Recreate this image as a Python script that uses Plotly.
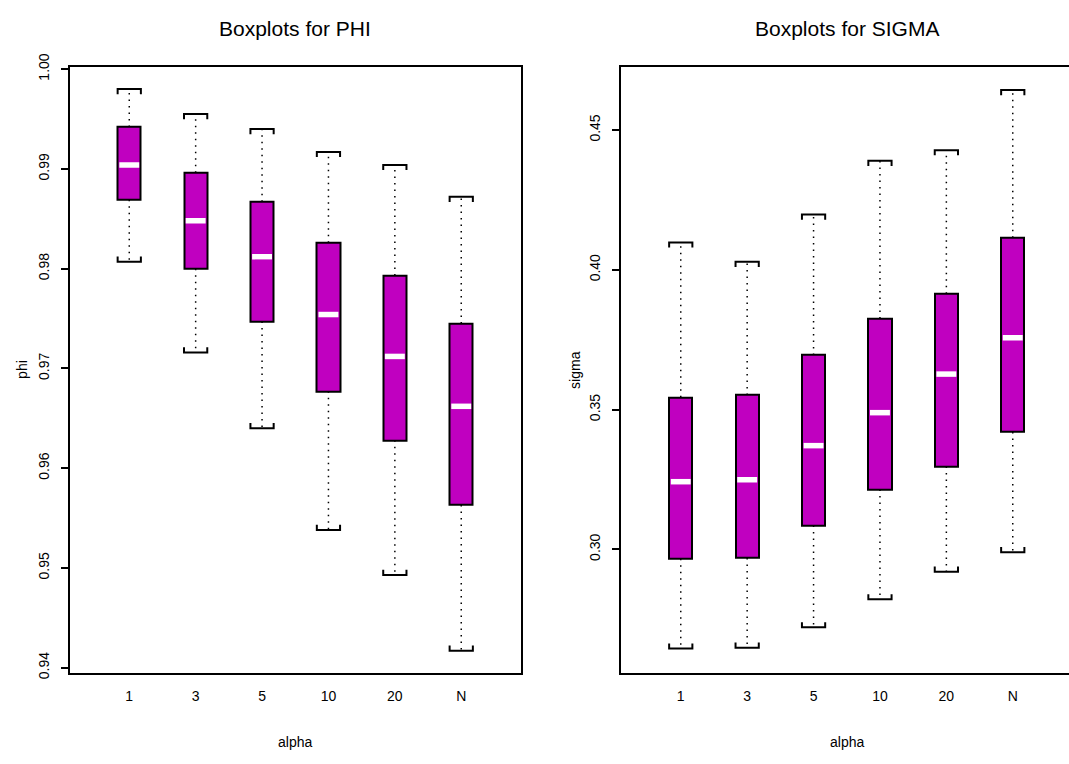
import plotly.graph_objects as go

# ---------------- data ----------------
categories = ["1", "3", "5", "10", "20", "N"]
positions = [1, 2, 3, 4, 5, 6]

phi_low = [0.9807, 0.9716, 0.9640, 0.9538, 0.9493, 0.9417]
phi_q1 = [0.9869, 0.9800, 0.9747, 0.9677, 0.9628, 0.9563]
phi_med = [0.9904, 0.9848, 0.9812, 0.9754, 0.9712, 0.9662]
phi_q3 = [0.9942, 0.9896, 0.9867, 0.9826, 0.9793, 0.9745]
phi_high = [0.9980, 0.9955, 0.9940, 0.9917, 0.9904, 0.9872]

sigma_low = [0.2645, 0.2648, 0.2721, 0.2821, 0.2920, 0.2990]
sigma_q1 = [0.2966, 0.2969, 0.3085, 0.3214, 0.3296, 0.3420]
sigma_med = [0.3242, 0.3249, 0.3371, 0.3489, 0.3627, 0.3757]
sigma_q3 = [0.3544, 0.3552, 0.3695, 0.3826, 0.3914, 0.4115]
sigma_high = [0.4098, 0.4029, 0.4198, 0.4390, 0.4428, 0.4643]

phi_ticks = [0.94, 0.95, 0.96, 0.97, 0.98, 0.99, 1.00]
sigma_ticks = [0.30, 0.35, 0.40, 0.45]

# ---------------- style ----------------
W, H = 1069, 764
FILL = "#C000C0"
BOX_W = 0.35
FONT = "Liberation Sans, Arial, Helvetica, sans-serif"


def px2x(p):
    return p / W


def px2y(p):
    return (H - p) / H


fig = go.Figure()


def add_panel(xa, ya, low, q1, med, q3, high, yrange):
    span = yrange[1] - yrange[0]
    leg = span * 0.0085
    hw = BOX_W / 2
    fig.add_trace(go.Bar(
        x=positions, y=[b - a for a, b in zip(q1, q3)], base=q1, width=BOX_W,
        marker=dict(color=FILL, line=dict(color="black", width=2)),
        xaxis=xa, yaxis=ya, showlegend=False, hoverinfo="skip"))
    wx, wy = [], []
    for p, l, a, b, h in zip(positions, low, q1, q3, high):
        wx += [p, p, None, p, p, None]
        wy += [b, h, None, a, l, None]
    fig.add_trace(go.Scatter(
        x=wx, y=wy, mode="lines", xaxis=xa, yaxis=ya, showlegend=False,
        line=dict(color="black", width=1.5, dash="1.5px,5px"), hoverinfo="skip"))
    sx, sy = [], []
    for p, l, h in zip(positions, low, high):
        sx += [p - hw, p - hw, p + hw, p + hw, None,
               p - hw, p - hw, p + hw, p + hw, None]
        sy += [h - leg, h, h, h - leg, None,
               l + leg, l, l, l + leg, None]
    fig.add_trace(go.Scatter(
        x=sx, y=sy, mode="lines", xaxis=xa, yaxis=ya, showlegend=False,
        line=dict(color="black", width=2), hoverinfo="skip"))
    mx, my = [], []
    for p, m in zip(positions, med):
        mx += [p - hw + 0.025, p + hw - 0.025, None]
        my += [m, m, None]
    fig.add_trace(go.Scatter(
        x=mx, y=my, mode="lines", xaxis=xa, yaxis=ya, showlegend=False,
        line=dict(color="white", width=5.5), hoverinfo="skip"))


phi_range = [0.93945, 1.00025]
sigma_range = [0.2557, 0.4727]

add_panel("x", "y", phi_low, phi_q1, phi_med, phi_q3, phi_high, phi_range)
add_panel("x2", "y2", sigma_low, sigma_q1, sigma_med, sigma_q3, sigma_high, sigma_range)

ydom = [px2y(677), px2y(55)]
xdom1 = [px2x(69.5), px2x(521)]
xdom2 = [px2x(621), 1.0]

common_x = dict(showgrid=False, zeroline=False, showline=True, linecolor="black",
                linewidth=2, ticks="outside", ticklen=0, tickvals=positions,
                ticktext=categories, tickfont=dict(size=14, color="black", family=FONT),
                ticklabelstandoff=9, fixedrange=True)
common_y = dict(showgrid=False, zeroline=False, showline=True, linecolor="black",
                linewidth=2, ticks="outside", ticklen=7, tickwidth=1.5, tickcolor="black",
                tickformat=".2f", tickangle=-90,
                tickfont=dict(size=14, color="black", family=FONT),
                ticklabelstandoff=6, fixedrange=True)

fig.update_layout(
    width=W, height=H, margin=dict(l=0, r=0, t=0, b=0),
    paper_bgcolor="white", plot_bgcolor="white", bargap=0,
    font=dict(family=FONT, color="black"),
    xaxis=dict(domain=xdom1, range=[0.1, 6.9], mirror=True, anchor="y", **common_x),
    yaxis=dict(domain=ydom, range=phi_range, tickvals=phi_ticks, mirror=True,
               anchor="x", **common_y),
    xaxis2=dict(domain=xdom2, range=[0.1, 0.1 + 448 / 66.4], mirror=True, anchor="y2",
                **common_x),
    yaxis2=dict(domain=ydom, range=sigma_range, tickvals=sigma_ticks, mirror=False,
                anchor="x2", **common_y),
)

c1 = (xdom1[0] + xdom1[1]) / 2
c2 = (px2x(621) + px2x(1072.5)) / 2
ann = [
    dict(text="Boxplots for PHI", x=c1, y=px2y(16), size=21),
    dict(text="Boxplots for SIGMA", x=c2, y=px2y(16), size=21),
    dict(text="alpha", x=c1, y=px2y(748), size=14),
    dict(text="alpha", x=c2, y=px2y(748), size=14),
]
for a in ann:
    fig.add_annotation(text=a["text"], x=a["x"], y=a["y"], xref="paper", yref="paper",
                       showarrow=False, xanchor="center", yanchor="middle",
                       font=dict(size=a["size"], color="black", family=FONT))
for t, xp in [("phi", 22), ("sigma", 575)]:
    fig.add_annotation(text=t, x=px2x(xp), y=px2y(366), xref="paper", yref="paper",
                       showarrow=False, textangle=-90, xanchor="center", yanchor="middle",
                       font=dict(size=14, color="black", family=FONT))

fig.write_html("out.html")
